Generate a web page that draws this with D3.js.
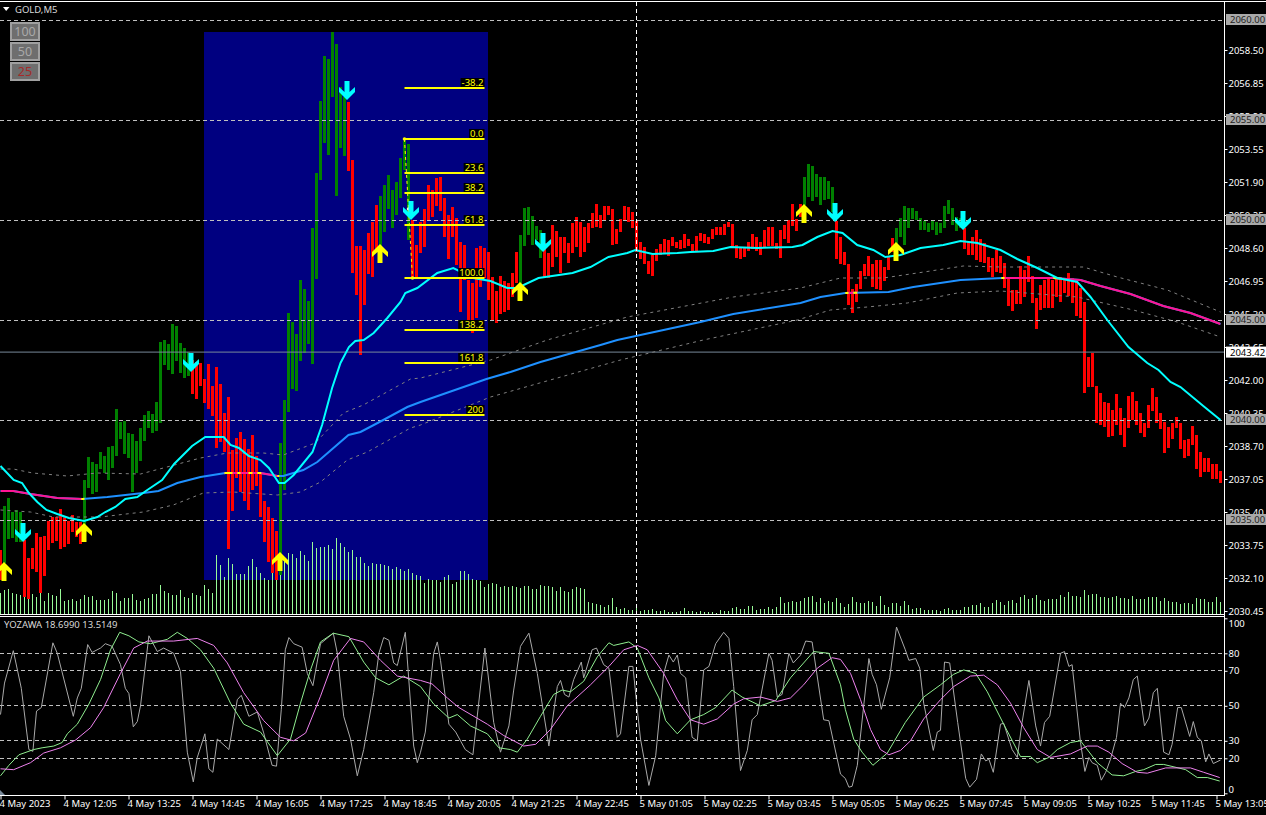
<!DOCTYPE html>
<html>
<head>
<meta charset="utf-8">
<script src="https://cdn.jsdelivr.net/npm/d3@7"></script>
<style>
  html, body { margin: 0; padding: 0; background: #000; overflow: hidden; }
  text { font-family: "Noto Sans", sans-serif; font-size: 9.5px; }
</style>
</head>
<body>
<svg id="chart" width="1266" height="815"></svg>
<script>
const barHigh = [
  2033.5,2035.7,2036.1,2035.4,2035.5,2035.4,2034,2033.1,2033.6,2034.35,
  2034.15,2034.2,2034.95,2035.15,2035.15,2035.55,2035.1,2034.95,2035.25,2034.9,
  2034.9,2037,2038.15,2037.9,2037.8,2038.4,2038.2,2038.65,2038.7,2040.55,
  2039.9,2039.95,2039.35,2039.3,2038.95,2039.6,2040.25,2040.45,2040.3,2040.9,
  2043.9,2044,2043.8,2044.8,2044.7,2043.85,2043.6,2043.4,2043,2042.9,
  2042.85,2042.05,2042.8,2041.7,2042.65,2041.8,2040.35,2041.15,2038.5,2039.1,
  2039.4,2039.05,2038.55,2039.25,2038.2,2037.35,2035.95,2035.65,2035.1,2034.45,
  2038.85,2041,2045.35,2044.9,2044.3,2047,2046.55,2045.95,2049.6,2052.35,
  2055.95,2058.2,2058.05,2059.4,2058.8,2056.65,2056.15,2055.9,2053,2048.7,
  2048.7,2048.5,2049.35,2049.9,2050.75,2051.2,2051.75,2052.25,2051.5,2051.9,
  2053.1,2053.95,2053.8,2050,2048.75,2049.9,2050.55,2051.75,2051.5,2052.1,
  2052.15,2051.1,2050.25,2050.65,2050.1,2048.9,2048.75,2047,2046.85,2048.6,
  2048.7,2048.6,2048.4,2047.15,2046.45,2047.2,2046.95,2046.85,2047.35,2048.4,
  2049.25,2050.6,2050.65,2050.2,2049.7,2049.5,2048.85,2048.35,2049.75,2049.45,
  2049.15,2049.15,2048.85,2049.85,2050.15,2049.9,2049.65,2049.85,2050.35,2050.8,
  2050.25,2050.7,2050.7,2050.55,2049.55,2050.05,2050.7,2050.65,2050.4,2049.95,
  2048.9,2048.65,2047.95,2048.25,2048.55,2048.8,2049.05,2049,2049.15,2048.9,
  2049,2049.3,2049.05,2048.8,2049.2,2049.35,2049.3,2049.15,2049.55,2049.65,
  2049.65,2049.8,2049.9,2049.8,2048.75,2048.6,2048.65,2048.9,2049.3,2049.15,
  2048.9,2049.5,2049.65,2049.65,2048.85,2049.5,2049.75,2050,2050.8,2050.05,
  2050.8,2052.15,2052.8,2052.7,2052.3,2052.15,2052.15,2051.95,2051.65,2049.95,
  2049.15,2048.4,2047.8,2046.55,2046.8,2047.45,2047.8,2048.2,2047.8,2048,
  2048,2047.65,2048.15,2049.1,2049.6,2050.1,2050.7,2050.6,2050.6,2050.45,
  2050.1,2049.95,2049.85,2049.95,2049.9,2049.85,2050.7,2051,2050.6,2050.15,
  2050.1,2049.6,2048.9,2049.15,2049.5,2049.05,2048.85,2048.15,2048.1,2048.5,
  2048.2,2047.85,2047.05,2046.5,2046.5,2047.7,2047.5,2048.2,2047.2,2046.1,
  2046.75,2047,2047.05,2047,2047.1,2047.15,2047.1,2047.35,2047.1,2046.95,
  2046.6,2045.9,2043.15,2043.35,2041.7,2041.35,2040.9,2040.85,2040.5,2041.3,
  2040.6,2040.1,2041.2,2041.4,2040.95,2040.35,2039.85,2040.75,2041.6,2041.15,
  2040.35,2039.9,2039.65,2039.85,2040.15,2039.85,2039,2039.05,2039.7,2039.25,
  2038.4,2038.1,2038.1,2037.8,2037.8,2037.45
];
const barLow = [
  2032,2032.85,2034.05,2034.1,2033.9,2033.9,2031.15,2031.05,2032.55,2032.4,
  2031.35,2032.2,2033.5,2033.85,2033.95,2033.55,2033.65,2033.8,2034.4,2034.15,
  2033.8,2034.65,2036.6,2036.3,2036.4,2037.55,2037.35,2037,2037.6,2038.2,
  2039.05,2038.3,2038.1,2036.4,2037.35,2037.95,2038.95,2039.6,2039.35,2039.45,
  2039.85,2042.75,2042.5,2042.3,2042.95,2042.35,2042.1,2042.2,2041.3,2041.05,
  2041.7,2040.85,2040.55,2040.2,2038.6,2038.9,2038.4,2033.55,2035.45,2037.1,
  2036.4,2035.95,2035.5,2036.5,2036.7,2035.15,2033.9,2032.9,2032.35,2032,
  2032.25,2036.5,2040.4,2041.55,2041.45,2042.95,2043.35,2043.8,2042.8,2047.05,
  2052,2053.85,2053.25,2056.15,2051.2,2053.6,2053.2,2052.45,2047.35,2046.25,
  2043.25,2045.75,2047.3,2047.15,2048.5,2048.5,2049.4,2050.55,2049.6,2050.25,
  2051.1,2052.5,2049,2047.15,2047.15,2048.35,2048.65,2050,2050.15,2050.7,
  2050.45,2049.15,2048.05,2049.15,2047.75,2045.4,2047,2045,2044.35,2045.1,
  2046.65,2047.1,2046,2045,2044.85,2045.3,2045.4,2045.5,2046.15,2046.85,
  2046.65,2048.7,2049.25,2048.75,2049,2048.1,2047.1,2047.1,2047.65,2048.15,
  2047.35,2048.35,2047.85,2048.35,2048.65,2048.15,2048.4,2048.85,2049.6,2049.65,
  2049.6,2050,2050.25,2048.75,2048.8,2049.4,2050,2049.9,2049.6,2048.4,
  2048.05,2047.8,2047.3,2047.2,2047.95,2048.25,2048.3,2048.2,2048.7,2048.6,
  2048.55,2048.6,2048.7,2048.4,2048.45,2048.95,2048.85,2048.8,2049.05,2049.25,
  2049.25,2049.25,2049.65,2048.6,2048.1,2048.05,2048.15,2048.45,2048.55,2048.45,
  2048.25,2048.6,2048.7,2048.7,2048.55,2048.1,2049.05,2048.85,2049.7,2049.45,
  2050.15,2050.75,2051.15,2050.95,2051.15,2050.75,2051,2051.05,2050.4,2048.05,
  2047.8,2047.75,2045.75,2045.35,2045.9,2046.55,2047.2,2047.2,2046.65,2046.55,
  2046.5,2046.95,2047.5,2048.4,2048,2049.15,2048.75,2049.6,2050.05,2050,
  2049.5,2049.5,2049.4,2049.5,2049.25,2049.35,2049.6,2050.3,2049.75,2049.45,
  2049.6,2048.55,2048.25,2048.25,2048,2047.9,2047.85,2047.4,2047.15,2047.4,
  2047.35,2046.6,2045.7,2045.45,2045.8,2045.8,2046.15,2046.9,2045.85,2044.55,
  2045.5,2045.6,2045.6,2045.6,2046.15,2045.9,2046.35,2046.2,2045.85,2045.2,
  2045.1,2041.35,2041.65,2041.65,2039.85,2039.75,2039.65,2039.15,2039.2,2039.75,
  2039.25,2038.65,2039.6,2040,2039.75,2039.35,2039.15,2039.6,2040.45,2039.85,
  2039.55,2038.35,2038.6,2039.05,2039.6,2038.55,2038.1,2038.2,2038.75,2037.55,
  2037.15,2037.4,2037.4,2037.05,2037.05,2036.85
];
const greenRuns = [[1,5],[21,47],[70,86],[95,102],[130,135],[201,208],[224,240]];

const volumes = [
  21,24,25,21,20,19,21,15,20,17, 24,13,21,19,18,25,13,14,15,13,
  15,19,17,18,14,14,14,15,23,21, 13,16,16,20,14,13,15,16,20,20,
  29,23,21,19,19,24,17,16,21,19, 18,29,25,21,59,49,37,56,50,40,
  40,40,48,55,47,41,36,34,41,43, 48,56,61,60,56,63,59,53,72,66,
  67,67,69,65,76,71,67,62,64,57, 57,51,48,51,50,50,49,48,45,47,
  45,43,45,41,39,38,31,35,34,34, 32,37,39,30,32,43,43,40,35,34,
  33,27,30,31,30,27,28,27,28,27, 26,28,28,25,25,29,28,28,27,23,
  27,23,22,25,27,26,25,12,11,10, 9,7,9,16,7,5,6,4,4,7,
  3,4,4,5,3,3,4,2,2,2, 3,6,3,3,2,3,2,2,2,1,
  4,3,3,6,7,5,5,8,8,4, 5,5,7,5,7,17,11,12,13,12,
  13,16,17,18,12,16,11,13,12,16, 11,7,10,17,12,11,11,13,12,8,
  18,9,7,11,11,8,13,9,5,6, 6,4,4,4,4,3,5,6,4,4,
  4,7,7,9,9,11,7,7,11,14, 12,9,13,14,11,17,19,15,16,19,
  14,13,15,15,15,19,17,22,18,18, 17,24,19,20,20,17,17,16,17,18,
  16,16,15,18,15,15,15,17,17,17, 13,16,13,12,12,10,11,11,10,16,
  15,15,12,12,17,12
];

const fastBars = [0,3.3,5.4,7.1,9.2,11.5,14.2,17.1,20.9,24.2,26.2,28.7,31.2,34.2,36.7,40.4,43.4,47.9,51.2,55.8,57.5,59.6,62.1,65,67.1,69.6,71,73.3,78,80.4,82.9,85,87.1,88.7,90.8,93.3,96.7,100,101.2,104.2,109.2,113.2,118.2,122.5,126.7,129.2,134.5,143,147.5,152,156.7,158.7,163,169.2,172.5,178.2,182.5,189.2,198,200.5,204.2,208,210.5,214.2,218.2,221.2,225,230,235.7,240,244.2,250,254.2,259.2,264.2,269.2,272.5,276.7,282,286.7,289.5,292.5,295,300.7,305];
const fastMa = [2037.7,2037,2036.85,2036.35,2035.9,2035.5,2035.3,2035.1,2034.95,2035.15,2035.4,2035.65,2036.05,2036.15,2036.5,2037,2037.8,2038.7,2039.15,2039.15,2038.75,2038.6,2038.2,2038,2037.6,2036.85,2036.85,2037.25,2038.4,2039.75,2041.6,2042.85,2043.65,2043.95,2044,2044.35,2045.1,2045.9,2046.35,2046.6,2047.35,2047.6,2047.1,2046.95,2046.6,2046.6,2047.1,2047.35,2047.65,2048.15,2048.35,2048.5,2048.3,2048.35,2048.4,2048.45,2048.65,2048.6,2048.65,2048.75,2049.15,2049.45,2049.35,2048.75,2048.5,2048.15,2048.25,2048.6,2048.75,2048.95,2048.85,2048.5,2048.05,2047.6,2047.1,2046.9,2046.15,2045,2043.65,2042.85,2042.5,2041.9,2041.65,2040.7,2040];

const slowBars = [0,3.2,7.5,14.2,20.5,26.7,35.7,39.5,44.2,50,56.2,65,69.2,70.7,75.7,79.2,87,90,95.7,101.7,105,121.5,127.5,135,150,154.2,175,183.2,200,205,211.2,222,228.2,240,250.5,263.2,270,275,282.5,290.7,297.5,305];
const slowMa = [2036.45,2036.45,2036.3,2036.1,2036.05,2036.15,2036.35,2036.45,2036.85,2037.15,2037.35,2037.35,2037.2,2037.2,2037.5,2037.9,2039.25,2039.4,2040,2040.65,2040.9,2042.05,2042.4,2042.9,2043.75,2044,2044.9,2045.3,2045.85,2046.15,2046.35,2046.4,2046.65,2047,2047.1,2047.1,2047,2046.7,2046.3,2045.7,2045.35,2044.8];
const pinkRanges = [[0,20.5],[56,69.5],[211.5,214],[250.5,305]];
const yellowRanges = [[20.2,21],[56,58],[59.2,60],[62,63],[64.2,65.2],[69.2,69.7],[211.2,212],[213.2,214.2],[250.2,251],[263.2,265]];

const upperBars = [0,3.2,8,16.7,24.2,35,40.7,50,56.7,65.7,70.7,78.7,85.7,90.7,102.5,105,122.5,136.7,156.7,183.2,200,210,220.7,229.2,240.7,250,270.7,279.2,291.7,305];
const upperBand = [2037.55,2037.55,2037.35,2037.2,2037.35,2037.3,2037.6,2038.1,2038.35,2038.35,2038.25,2038.85,2040.35,2040.75,2042.05,2042.1,2043,2044,2045.15,2046.15,2046.6,2047.1,2047.1,2047.35,2047.7,2047.65,2047.65,2047.15,2046.5,2045.4];
const lowerBars = [0,7.5,13.2,25,35.7,43.2,50.7,58.2,69.2,75,80,86.7,91.7,102.5,105,122.5,155,175.7,199.2,207.5,216.7,226.7,239.2,250,269.2,283.2,294.2,305];
const lowerBand = [2035.5,2035.4,2035.15,2035.15,2035.4,2035.75,2036.35,2036.4,2036.25,2036.4,2036.9,2038,2038.4,2039.6,2039.75,2041.15,2043,2044,2045,2045.5,2045.65,2045.85,2046.35,2046.45,2046.15,2045.5,2044.9,2044.15];

const upArrowBars = [1,21,70,95,130,201,224];
const upArrowPrices = [2032.9,2034.85,2033.4,2048.8,2046.9,2050.8,2048.9];
const downArrowBars = [6,48,87,103,136,209,241];
const downArrowPrices = [2033.9,2042.4,2056,2050,2048.4,2049.9,2049.5];

const fibLabels = ["-38.2","0.0","23.6","38.2","61.8","100.0","138.2","161.8","200"];
const fibPrices = [2056.6,2054.05,2052.35,2051.35,2049.75,2047.1,2044.5,2042.85,2040.25];
const fibBarFrom = 101, fibBarTo = 121;
const trendBars = [101,102,103];
const trendPrices = [2054.05,2050.55,2047.1];

const priceTicks = [2058.5,2056.85,2055.2,2053.55,2051.9,2050.25,2048.6,2046.95,2045.3,2043.65,2042,2040.35,2038.7,2037.05,2035.4,2033.75,2032.1,2030.45];
const gridPrices = [2060,2055,2050,2045,2040,2035];
const lastPrice = 2043.42;

const oscTicks = [100,80,70,50,30,20,0];
const oscGrid = [80,70,50,30,20];

const grayBars = [0,1,3.2,5.2,7.1,8.1,9,10.2,13.1,14.2,18.2,19.2,20.2,21.8,22.9,25,26.2,27.9,30,31.2,32.1,33.2,34.2,35,37.1,39.2,40.8,43.3,45,46.7,48.2,49.2,51.1,52.1,53.1,54.2,57.1,59.2,60.2,62.1,64.2,65.8,67.9,69,70.2,71.2,72.1,73.3,75.4,76.7,78.1,80,83.2,84.2,85.8,87.5,89.2,90.8,93.3,94.6,95.8,97.1,98.3,99.2,101.2,103.3,104.2,105,
  106.2,108.3,109.2,110,112.1,113.8,116.2,118.1,121.1,123.3,125,127.1,128.3,130,132.1,134.2,137.1,139.2,140,141,142.1,143.3,145.2,145.8,147.9,149,150.8,152.1,154.2,155,157.1,158.1,159.2,160,162.1,163.8,165.8,167.1,168.2,169.2,170,171.3,172.9,174.2,175.8,177.1,178.8,180.8,182.1,183.3,185,186.7,187.9,189.2,192.1,192.9,194.2,195.4,197.1,198.2,200,201.3,202.9,205.8,207.1,210,
  211.2,212.1,212.9,214.2,215.8,217.1,217.9,219,220.2,222.3,224,226.2,227.1,228.8,229.8,230.8,233.2,234.2,235,236,237.3,239.3,241.3,242.3,244,245.2,246.3,247.1,248.2,250,250.8,252.9,254.2,255.4,257.1,258.8,260,261,262.3,265,266,267.1,267.9,270,271.1,272.1,272.9,274.2,275.2,276.3,277.5,279,280,281,282.1,283.2,284.2,286,287.1,288.2,289.2,290.8,292.1,292.9,294.3,295.2,297.3,298.2,299.2,300.2,301.3,302.1,303.2,305];
const grayLine = [45,63,81.5,60,25,24,47,49,86,80,44,54.5,60,85,80.5,83,85.5,84,73.5,60,57,38,41,50,90,81,83,80,69.5,23.5,6.5,20.5,34,14,12,31,25,53.5,56,44,46.5,34.5,16,15.5,48,82,89,85.5,83.5,68.5,61.5,85.5,91.5,80,44,31,10,25,57.5,80,89,87.5,74.5,73,92,27,17.5,23.5,
  35,80,86.5,76,39.5,35,25,22,83,40.5,23.5,38.5,59,84,91.5,68.5,27,61,64.5,56.5,55,65,75,66,82,83,73.5,71.5,32,34,72.5,72.5,48,31,4.5,21.5,68.5,79,75,79,68.5,66,32,30,70.5,72.5,85.5,92,88.5,61,13,24.5,42,45,80,76,55,56.5,80,74.5,79,87,86.5,42,41.5,11,
  8.5,3.5,4,16,50,77,68,62,48,66,95,82,76,77,71.5,51.5,24.5,35,36,75,74.5,40.5,8.5,3.5,8,22.5,18.5,19.5,12,39.5,40,25,20.5,40.5,64.5,38.5,27,40.5,44,80,81,72.5,73.5,29,12.5,20.5,17.5,16,7.5,12,19.5,32,51.5,49,54.5,65,67,38.5,43,57.5,60,23.5,22,28,49,49,32.5,41,32,30,18,22.5,17,19];

const greenBars = [0,2.1,4.6,8.3,10.4,13.3,15.4,16.7,19.2,22.1,25,27.5,29.8,32.1,34.6,37.5,41.7,44.2,46.7,50,53.3,57.5,60.8,65,69.2,72.5,75,77.5,80,83.2,87.1,90.8,93.8,97.1,100.8,105,
  108.3,112.1,114.2,117.5,121.7,124.6,127.5,129.2,131.7,135,138.3,140.4,142.5,145.8,149.2,152.1,153.3,157.1,159.2,162.1,164.6,166.3,169.2,172.5,175.8,178.8,182.9,185.4,190,193.8,197.5,203.3,207.1,210,
  211.2,213.3,215.4,218.1,221.7,226.2,230.8,235,238.3,240.8,243.8,246.7,250.8,255,257.5,259.2,262.1,264.2,267.5,270,274.2,277.9,280.8,283.8,285.8,288.8,290.8,296.3,299.2,301.7,304.8];
const greenLine = [10,16,22,25,26,27,29,34,39.5,51,65,82,92,90,86.5,85.5,88,92,88.5,82,71.5,51.5,39.5,35,21.5,31,51.5,70.5,86.5,91.5,89.5,75,66,62,67,61,
  51,43,45,38.5,34,26,25,23.5,31,44,56.5,59,58,64,78,86,84.5,86.5,83,66,54.5,41.5,34,42,45,49,59,55,50,53,66,81,80,62,
  48,31,23.5,16,23,40.5,55,62,68,70.5,68.5,58,39.5,21,21,17.5,20.5,25,29,30,17.5,10.5,10,12.5,13.5,16.5,16.5,13.5,9,9,7];

const violetBars = [0,3.3,7.5,10.8,15,18.8,22.5,25.8,30,33.3,36.7,43.3,49.2,53.3,56.7,60.8,65.8,70,73.3,76.3,80,83.3,87.5,90.8,95,99.2,105,
  107.9,111.7,114.6,121.7,125.8,130.8,133.8,137.5,141.7,147.5,152.1,155.8,159.2,161.7,165.8,169.2,172.5,175.8,179.2,183.3,185.8,190,194.2,197.5,200.8,204.2,207.9,210,
  212.5,215,217.5,220,222.1,225,227.5,230.8,235,238.3,242.5,245.8,249.2,252.5,255.8,259.2,262.5,267.5,271.7,274.2,277.1,280.4,284.2,286.7,291.3,297.5,300.8,304.8];
const violetLine = [14,13.5,17.5,23,26,30.5,37.5,49,68.5,83,87,87,88.5,84.5,74.5,57.5,41.5,32,30,34.5,55.5,76,88.5,86.5,76,67,64.5,
  62.5,54.5,49,39.5,33,27,28,36.5,50,62,72.5,82,84.5,82,68.5,53.5,42,39.5,42.5,51,54,55,52.5,54.5,62,71.5,77.5,76.5,
  68.5,53.5,36.5,25,22,24.5,30,42.5,53.5,61,67,67.5,62,51.5,37.5,25,20.5,22.5,27,27,23.5,17,12,11.5,14.5,14.5,12,9];

const timeLabels = ["4 May 2023","4 May 12:05","4 May 13:25","4 May 14:45","4 May 16:05","4 May 17:25","4 May 18:45","4 May 20:05","4 May 21:25","4 May 22:45","5 May 01:05","5 May 02:25","5 May 03:45","5 May 05:05","5 May 06:25","5 May 07:45","5 May 09:05","5 May 10:25","5 May 11:45","5 May 13:05"];
const timeBars = timeLabels.map((d, i) => i * 16);

const rectPrices = [2059.4, 2032];
const crossBar = 159;

const width = 1266, height = 815, plotRight = 1224;
const svg = d3.select("#chart");

const x = d3.scaleLinear().domain([0, 305]).range([0.5, 1220.5]);
const y = d3.scaleLinear().domain([2060, 2030.45]).range([20, 611]);
const yVol = d3.scaleLinear().domain([0, 100]).range([614, 514]);
const yOsc = d3.scaleLinear().domain([0, 100]).range([793.3, 618.3]);

const isGreen = (i) => greenRuns.some((r) => i >= r[0] && i <= r[1]);
const zip = (xs, ys) => xs.map((d, i) => [d, ys[i]]);

// fondo
svg.append("rect").attr("width", width).attr("height", height).attr("fill", "#000");
svg.append("rect")
  .attr("x", 204)
  .attr("y", y(rectPrices[0]))
  .attr("width", 284)
  .attr("height", y(rectPrices[1]) - y(rectPrices[0]))
  .attr("fill", "#000080");

// volumen
svg.append("g")
  .selectAll("rect")
  .data(volumes)
  .join("rect")
  .attr("x", (d, i) => x(i) - 0.5)
  .attr("y", (d) => yVol(d))
  .attr("width", 1)
  .attr("height", (d) => yVol(0) - yVol(d))
  .attr("fill", "#98fb98");

// velas
svg.append("g")
  .selectAll("rect")
  .data(barHigh)
  .join("rect")
  .attr("x", (d, i) => x(i) - 1.5)
  .attr("y", (d) => y(d))
  .attr("width", 3)
  .attr("height", (d, i) => y(barLow[i]) - y(d))
  .attr("fill", (d, i) => (isGreen(i) ? "#008000" : "#ff0000"))
  .attr("shape-rendering", "crispEdges");

// rejilla
const priceLine = d3.line().x((d) => x(d[0])).y((d) => y(d[1]));

svg.append("g")
  .selectAll("line")
  .data(gridPrices)
  .join("line")
  .attr("x1", 0)
  .attr("x2", plotRight)
  .attr("y1", (d) => y(d) + 0.5)
  .attr("y2", (d) => y(d) + 0.5)
  .attr("stroke", "#c0c0c0")
  .attr("stroke-dasharray", "4,3");

svg.append("line")
  .attr("x1", 0)
  .attr("x2", plotRight)
  .attr("y1", y(lastPrice) + 0.5)
  .attr("y2", y(lastPrice) + 0.5)
  .attr("stroke", "#778899");

// bandas
[zip(upperBars, upperBand), zip(lowerBars, lowerBand)].forEach((band) => {
  svg.append("path")
    .attr("d", priceLine(band))
    .attr("fill", "none")
    .attr("stroke", "#808080")
    .attr("stroke-dasharray", "3,4");
});

// media lenta, con tramos de color
function slowPath(color, ranges, id) {
  const path = svg.append("path")
    .attr("d", priceLine(zip(slowBars, slowMa)))
    .attr("fill", "none")
    .attr("stroke", color)
    .attr("stroke-width", 2);
  if (ranges) {
    const clip = svg.append("clipPath").attr("id", id);
    clip.selectAll("rect")
      .data(ranges)
      .join("rect")
      .attr("x", (d) => x(d[0]))
      .attr("width", (d) => x(d[1]) - x(d[0]))
      .attr("y", 0)
      .attr("height", 620);
    path.attr("clip-path", `url(#${id})`);
  }
}
slowPath("#1e90ff");
slowPath("#ff1493", pinkRanges, "pinkClip");
slowPath("#ffff00", yellowRanges, "yellowClip");

// media rapida
svg.append("path")
  .attr("d", priceLine(zip(fastBars, fastMa)))
  .attr("fill", "none")
  .attr("stroke", "#00ffff")
  .attr("stroke-width", 2);

// fibonacci
svg.append("g")
  .selectAll("line")
  .data(fibPrices)
  .join("line")
  .attr("x1", x(fibBarFrom))
  .attr("x2", x(fibBarTo))
  .attr("y1", (d) => y(d))
  .attr("y2", (d) => y(d))
  .attr("stroke", "#ffff00")
  .attr("stroke-width", 2);

fibLabels.forEach((label, i) => {
  const t = svg.append("text")
    .attr("x", x(fibBarTo) - 1)
    .attr("y", y(fibPrices[i]) - 2)
    .attr("text-anchor", "end")
    .attr("fill", "#ffff00")
    .text(label);
  const box = t.node().getBBox();
  svg.insert("rect", () => t.node())
    .attr("x", box.x - 1)
    .attr("y", y(fibPrices[i]) - 10)
    .attr("width", box.width + 2)
    .attr("height", 9)
    .attr("fill", "#000");
});

svg.append("path")
  .attr("d", priceLine(zip(trendBars, trendPrices)))
  .attr("fill", "none")
  .attr("stroke", "#ffff00")
  .attr("stroke-dasharray", "3,3");

svg.append("g")
  .selectAll("circle")
  .data(trendBars)
  .join("circle")
  .attr("cx", (d) => x(d))
  .attr("cy", (d, i) => y(trendPrices[i]))
  .attr("r", 1.8)
  .attr("fill", (d, i) => (i === 1 ? "#fff8c0" : "#ffff00"));

// flechas
const upShape = "M0,0L8,8L8,13L2.5,8L2.5,19L-2.5,19L-2.5,8L-8,13L-8,8Z";
const downShape = "M0,0L8,-8L8,-13L2.5,-8L2.5,-19L-2.5,-19L-2.5,-8L-8,-13L-8,-8Z";

svg.append("g")
  .selectAll("path")
  .data(upArrowBars)
  .join("path")
  .attr("d", upShape)
  .attr("transform", (d, i) => `translate(${x(d) - 0.5},${y(upArrowPrices[i])})`)
  .attr("fill", "#ffff00");

svg.append("g")
  .selectAll("path")
  .data(downArrowBars)
  .join("path")
  .attr("d", downShape)
  .attr("transform", (d, i) => `translate(${x(d) - 1.5},${y(downArrowPrices[i])})`)
  .attr("fill", "#00ffff");

// oscilador
svg.append("g")
  .selectAll("line")
  .data(oscGrid)
  .join("line")
  .attr("x1", 0)
  .attr("x2", plotRight)
  .attr("y1", (d) => Math.floor(yOsc(d)) + 0.5)
  .attr("y2", (d) => Math.floor(yOsc(d)) + 0.5)
  .attr("stroke", "#c0c0c0")
  .attr("stroke-dasharray", "4,3");

const oscLine = d3.line().x((d) => x(d[0])).y((d) => yOsc(d[1]));
[
  [grayBars, grayLine, "#a9a9a9"],
  [greenBars, greenLine, "#90ee90"],
  [violetBars, violetLine, "#ee82ee"],
].forEach(([xs, ys, color]) => {
  svg.append("path")
    .attr("d", oscLine(zip(xs, ys)))
    .attr("fill", "none")
    .attr("stroke", color);
});

// cruz
svg.append("line")
  .attr("x1", x(crossBar))
  .attr("x2", x(crossBar))
  .attr("y1", 2)
  .attr("y2", 795)
  .attr("stroke", "#fff")
  .attr("stroke-dasharray", "4,3");

// marcos
[614.5, 616.5, 795.5].forEach((v) => {
  svg.append("line")
    .attr("x1", 0)
    .attr("x2", plotRight + 1)
    .attr("y1", v)
    .attr("y2", v)
    .attr("stroke", "#fff");
});
svg.append("line")
  .attr("x1", 0)
  .attr("x2", width)
  .attr("y1", 1.5)
  .attr("y2", 1.5)
  .attr("stroke", "#fff");
svg.append("line")
  .attr("x1", plotRight + 0.5)
  .attr("x2", plotRight + 0.5)
  .attr("y1", 1)
  .attr("y2", 796)
  .attr("stroke", "#fff");

// ejes
const axisPrice = svg.append("g")
  .attr("transform", `translate(${plotRight + 0.5},0)`)
  .call(d3.axisRight(y).tickValues(priceTicks).tickFormat(d3.format(".2f")).tickSize(3).tickPadding(1));

const axisOsc = svg.append("g")
  .attr("transform", `translate(${plotRight + 0.5},0)`)
  .call(d3.axisRight(yOsc).tickValues(oscTicks).tickSize(3).tickPadding(1));
axisOsc.selectAll("text").attr("dy", (d) => (d === 100 ? "0.85em" : d === 0 ? "-0.1em" : "0.32em"));

const axisTime = svg.append("g")
  .attr("transform", "translate(0,795.5)")
  .call(d3.axisBottom(x).tickValues(timeBars).tickFormat((d, i) => timeLabels[i]).tickSize(4).tickPadding(1));
axisTime.selectAll("text").attr("text-anchor", "start").attr("x", -1.5);

[axisPrice, axisOsc, axisTime].forEach((a) => {
  a.select(".domain").remove();
  a.selectAll("line").attr("stroke", "#fff");
  a.selectAll("text").attr("fill", "#fff").style("font-family", '"Noto Sans", sans-serif').style("font-size", "9.5px");
});

// etiquetas de precio
gridPrices.forEach((p) => {
  svg.append("rect")
    .attr("x", 1226)
    .attr("y", y(p) - 6)
    .attr("width", 40)
    .attr("height", 11)
    .attr("fill", "#a9a9a9");
  svg.append("text")
    .attr("x", 1230)
    .attr("y", y(p) + 3)
    .attr("fill", "#222")
    .text(p.toFixed(2));
});
svg.append("rect")
  .attr("x", 1226)
  .attr("y", y(lastPrice) - 5)
  .attr("width", 40)
  .attr("height", 11)
  .attr("fill", "#fff");
svg.append("text")
  .attr("x", 1230)
  .attr("y", y(lastPrice) + 4)
  .attr("fill", "#000")
  .text(lastPrice.toFixed(2));

// titulos
svg.append("path").attr("d", "M3,7L9.5,7L6.2,11Z").attr("fill", "#fff");
svg.append("text").attr("x", 15).attr("y", 12.5).attr("fill", "#d8d8d8").text("GOLD,M5");
svg.append("text").attr("x", 4).attr("y", 628).attr("fill", "#d8d8d8").text("YOZAWA 18.6990 13.5149");
svg.append("path").attr("d", "M0,790L5,795L0,795Z").attr("fill", "#778899");

// botones
[["100", "#a9a9a9"], ["50", "#a9a9a9"], ["25", "#a52a2a"]].forEach(([label, color], i) => {
  const top = 22 + i * 20;
  svg.append("rect").attr("x", 10).attr("y", top).attr("width", 30).attr("height", 19).attr("fill", "#a0a0a0");
  svg.append("rect").attr("x", 12).attr("y", top + 2).attr("width", 26).attr("height", 15).attr("fill", "#6e6e6e");
  svg.append("text")
    .attr("x", 25)
    .attr("y", top + 14)
    .attr("text-anchor", "middle")
    .attr("fill", color)
    .style("font-size", "12.5px")
    .text(label);
});
</script>
</body>
</html>
